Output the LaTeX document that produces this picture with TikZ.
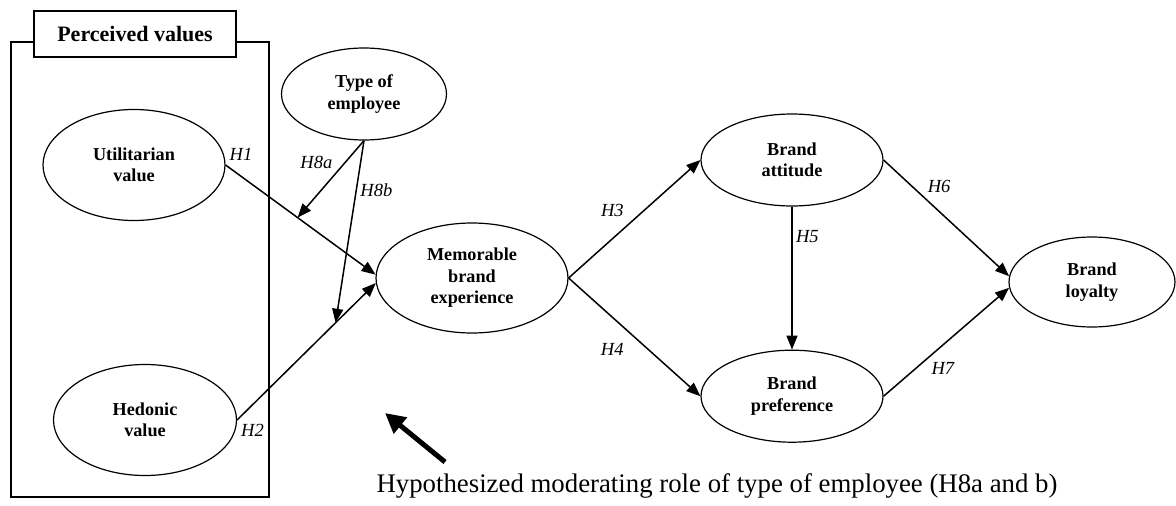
\documentclass[tikz,border=0pt]{standalone}
\usepackage{fontspec}
\setmainfont{Liberation Serif}
\usepackage{tikz}
\usetikzlibrary{positioning,shapes.geometric,arrows.meta}

\tikzset{
    construct/.style={draw, ellipse, line width=1.2pt, inner sep=0pt, align=center, font=\fontsize{18.2}{21.5}\selectfont\bfseries},
    hyp/.style={-{Triangle[length=14pt,width=11pt]}, line width=1.5pt},
    hlabel/.style={font=\fontsize{18.5}{20}\selectfont\itshape}
}

\begin{document}
\begin{tikzpicture}[x=1pt, y=-1pt, node distance=143pt and 1.55cm]
    \useasboundingbox (0,0) rectangle (1176,506);

    % perceived values block
    \draw[line width=1.2pt] (11,42) rectangle (269,497);
    \node[draw, rectangle, fill=white, line width=1.2pt, minimum width=202pt, minimum height=46pt, font=\fontsize{22}{24}\selectfont\bfseries] (PV) at (135,34) {Perceived values};

    \node[construct, minimum width=182pt, minimum height=111pt] (UV) at (134,165) {Utilitarian\\value};
    \node[construct, minimum width=183pt, minimum height=111pt] (HV) at (145,420) {Hedonic\\value};
    \node[construct, minimum width=165pt, minimum height=92pt] (TE) at (364,94) {Type of\\employee};
    \node[construct, minimum width=192pt, minimum height=110pt] (MBE) at (472,278) {Memorable\\brand\\experience};
    \node[construct, minimum width=182pt, minimum height=92pt] (BA) at (792,160) {Brand\\attitude};
    \node[construct, minimum width=182pt, minimum height=92pt, below=of BA] (BP) {Brand\\preference};
    \node[construct, minimum width=166pt, minimum height=90pt] (BL) at (1092,282) {Brand\\loyalty};

    \draw[hyp] (UV.east) -- node[hlabel, at start, above right] {H1} (MBE.178) coordinate[pos=0.48] (m1);
    \draw[hyp] (HV.east) -- node[hlabel, at start, below right] {H2} (MBE.183) coordinate[pos=0.71] (m2);
    \draw[hyp] (TE.south) -- node[hlabel, pos=0.28, left=9pt] {H8a} (m1);
    \draw[hyp] (TE.south) -- node[hlabel, pos=0.27, right] {H8b} (m2);
    \draw[hyp] (MBE.east) -- node[hlabel, pos=0.57, left=16pt] {H3} (BA.west);
    \draw[hyp] (MBE.east) -- node[hlabel, pos=0.6, left=20pt] {H4} (BP.west);
    \draw[hyp] (BA.south) -- node[hlabel, pos=0.21, right] {H5} (BP.north);
    \draw[hyp] (BA.east) -- node[hlabel, pos=0.32, above right] {H6} (BL.176);
    \draw[hyp] (BP.east) -- node[hlabel, pos=0.35, below right] {H7} (BL.184);

    % moderating role
    \coordinate (tail) at (445,462);
    \coordinate (head) at (385,413);
    \draw[line width=5pt, -{Triangle[length=20pt,width=20pt]}] (tail) -- (head);
    \node[font=\fontsize{26.8}{30}\selectfont] (note) at (717,486) {Hypothesized moderating role of type of employee (H8a and b)};
\end{tikzpicture}
\end{document}
